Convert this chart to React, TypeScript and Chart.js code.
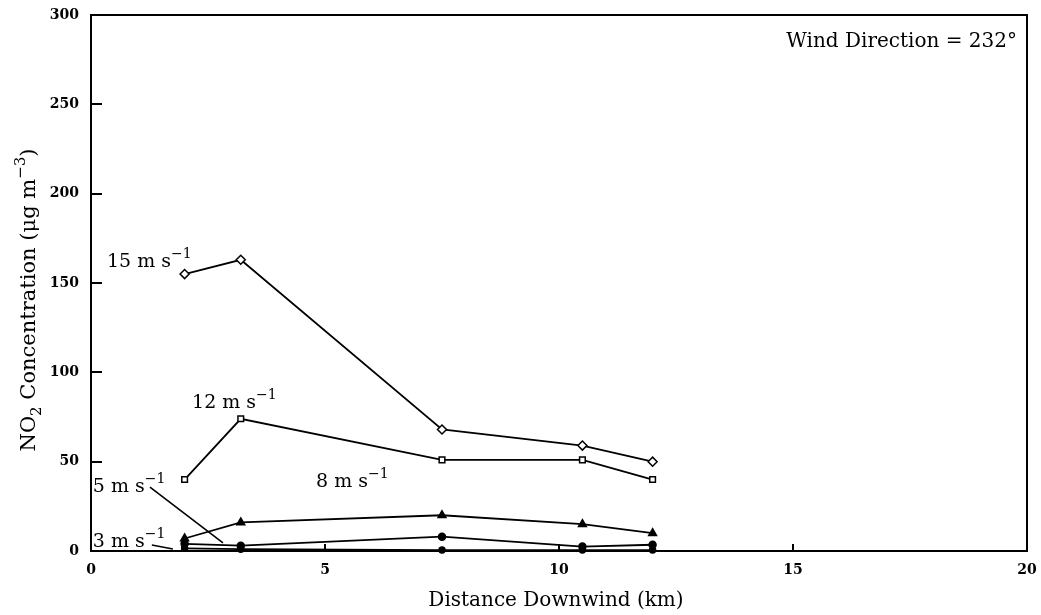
import { useEffect, useRef } from "react";
import { Chart, registerables } from "chart.js";

Chart.register(...registerables);

// Downwind distance of each sampling site (km)
const distanceKm = [2, 3.2, 7.5, 10.5, 12];

// NO2 concentration (µg m^-3) for each wind speed
const no2Wind15 = [155, 163, 68, 59, 50];
const no2Wind12 = [40, 74, 51, 51, 40];
const no2Wind8 = [7, 16, 20, 15, 10];
const no2Wind5 = [4, 3, 8, 2.5, 3.5];
const no2Wind3 = [1.5, 1, 0.5, 0.5, 0.5];

// Wind speed of each series (m s^-1)
const windSpeeds = ["15", "12", "8", "5", "3"];

const xTickValues = [0, 5, 10, 15, 20];
const yTickValues = [0, 50, 100, 150, 200, 250, 300];

const windDirectionText = "Wind Direction = 232°";
const xTitle = "Distance Downwind (km)";

const FONT = "'DejaVu Serif', serif";

// Where each wind-speed label sits, in data units (left edge, baseline)
const speedLabelAnchors = [
  { x: 0.34, y: 159 },
  { x: 2.16, y: 80 },
  { x: 4.81, y: 35.8 },
  { x: 0.04, y: 33 },
  { x: 0.04, y: 2.2 },
];

// Leader lines from the crowded labels to their curves, in data units
const leaderLines = [
  { from: [1.26, 35.8], to: [2.82, 4.5] },
  { from: [1.3, 3.4], to: [1.75, 1.1] },
];

type Part = [string, number]; // text, shift (0 normal, 1 superscript, -1 subscript)

function drawRich(
  ctx: CanvasRenderingContext2D,
  parts: Part[],
  x: number,
  y: number,
  size: number,
  align: "left" | "center" | "right"
) {
  const sizes = parts.map(([, s]) => (s === 0 ? size : Math.round(size * 0.72)));
  const widths = parts.map(([t], i) => {
    ctx.font = `${sizes[i]}px ${FONT}`;
    return ctx.measureText(t).width;
  });
  const total = widths.reduce((a, b) => a + b, 0);
  let cx = align === "center" ? x - total / 2 : align === "right" ? x - total : x;
  ctx.textAlign = "left";
  ctx.textBaseline = "alphabetic";
  parts.forEach(([t, s], i) => {
    ctx.font = `${sizes[i]}px ${FONT}`;
    const dy = s === 1 ? -size * 0.47 : s === -1 ? size * 0.28 : 0;
    ctx.fillText(t, cx, y + dy);
    cx += widths[i];
  });
}

const framePlugin = {
  id: "frame",
  afterDraw(chart: any) {
    const { ctx, chartArea } = chart;
    const { left, right, top, bottom } = chartArea;
    const xs = chart.scales.x;
    const ys = chart.scales.y;
    ctx.save();
    ctx.strokeStyle = "#000";
    ctx.lineWidth = 2;
    ctx.strokeRect(left, top, right - left, bottom - top);
    ctx.beginPath();
    yTickValues.slice(1, -1).forEach((v) => {
      const py = Math.round(ys.getPixelForValue(v));
      ctx.moveTo(left, py);
      ctx.lineTo(left + 11, py);
    });
    xTickValues.slice(1, -1).forEach((v) => {
      const px = Math.round(xs.getPixelForValue(v));
      ctx.moveTo(px, bottom);
      ctx.lineTo(px, bottom - 7);
    });
    ctx.stroke();
    ctx.restore();
  },
};

const annotationPlugin = {
  id: "speedLabels",
  afterDatasetsDraw(chart: any) {
    const { ctx, chartArea } = chart;
    const xs = chart.scales.x;
    const ys = chart.scales.y;
    ctx.save();
    ctx.fillStyle = "#000";
    ctx.strokeStyle = "#000";

    windSpeeds.forEach((speed, i) => {
      const a = speedLabelAnchors[i];
      drawRich(
        ctx,
        [
          [`${speed} m s`, 0],
          ["\u22121", 1],
        ],
        xs.getPixelForValue(a.x),
        ys.getPixelForValue(a.y),
        19,
        "left"
      );
    });

    ctx.lineWidth = 1.6;
    ctx.beginPath();
    leaderLines.forEach(({ from, to }) => {
      ctx.moveTo(xs.getPixelForValue(from[0]), ys.getPixelForValue(from[1]));
      ctx.lineTo(xs.getPixelForValue(to[0]), ys.getPixelForValue(to[1]));
    });
    ctx.stroke();

    // Wind direction note, top right of the plot
    drawRich(ctx, [[windDirectionText, 0]], chartArea.right - 10, chartArea.top + 32, 20, "right");

    // Axis titles
    drawRich(ctx, [[xTitle, 0]], (chartArea.left + chartArea.right) / 2 - 3, chartArea.bottom + 55, 20, "center");

    ctx.save();
    ctx.translate(35, (chartArea.top + chartArea.bottom) / 2 + 17);
    ctx.rotate(-Math.PI / 2);
    drawRich(
      ctx,
      [
        ["NO", 0],
        ["2", -1],
        [" Concentration (\u03bcg m", 0],
        ["\u22123", 1],
        [")", 0],
      ],
      0,
      0,
      21,
      "center"
    );
    ctx.restore();

    ctx.restore();
  },
};

export default function App() {
  const canvasRef = useRef<HTMLCanvasElement>(null);

  useEffect(() => {
    const canvas = canvasRef.current;
    if (!canvas) return;

    const lineStyle = {
      borderColor: "#000",
      borderWidth: 1.8,
      pointBorderColor: "#000",
      pointBorderWidth: 1.5,
      tension: 0,
      clip: false as const,
    };

    const series = [no2Wind15, no2Wind12, no2Wind8, no2Wind5, no2Wind3];
    const pointStyles = ["rectRot", "rect", "triangle", "circle", "circle"];
    const pointRadii = [4.5, 4, 4.5, 3.5, 3];
    const pointFills = ["#fff", "#fff", "#000", "#000", "#000"];

    const noEdgePadding = (scale: any) => {
      scale.paddingTop = 0;
      scale.paddingBottom = 0;
      scale.paddingLeft = 0;
      scale.paddingRight = 0;
    };

    const chart = new Chart(canvas, {
      type: "line",
      data: {
        datasets: series.map((values, i) => ({
          label: `${windSpeeds[i]} m s\u207b\u00b9`,
          data: values.map((v, j) => ({ x: distanceKm[j], y: v })),
          ...lineStyle,
          pointStyle: pointStyles[i] as any,
          pointRadius: pointRadii[i],
          pointBackgroundColor: pointFills[i],
        })),
      },
      options: {
        responsive: false,
        devicePixelRatio: 1,
        animation: false,
        layout: { padding: { top: 15, right: 14, left: 0, bottom: 0 } },
        plugins: {
          legend: { display: false },
          tooltip: { enabled: false },
        },
        scales: {
          x: {
            type: "linear",
            min: 0,
            max: 20,
            afterFit: (scale: any) => {
              scale.height = 64;
              noEdgePadding(scale);
            },
            afterBuildTicks: (scale: any) => {
              scale.ticks = xTickValues.map((v) => ({ value: v }));
            },
            grid: { display: false, drawTicks: false },
            border: { display: false },
            ticks: {
              color: "#000",
              padding: 11,
              maxRotation: 0,
              font: { family: FONT, size: 14, weight: "bold" },
            },
          },
          y: {
            type: "linear",
            min: 0,
            max: 300,
            afterFit: (scale: any) => {
              scale.width = 91;
              noEdgePadding(scale);
            },
            afterBuildTicks: (scale: any) => {
              scale.ticks = yTickValues.map((v) => ({ value: v }));
            },
            grid: { display: false, drawTicks: false },
            border: { display: false },
            ticks: {
              color: "#000",
              padding: 12,
              font: { family: FONT, size: 14, weight: "bold" },
            },
          },
        },
      },
      plugins: [framePlugin, annotationPlugin],
    });

    return () => chart.destroy();
  }, []);

  return (
    <div style={{ position: "absolute", left: 0, top: 0, width: 1041, height: 615, background: "#fff" }}>
      <canvas ref={canvasRef} width={1041} height={615} style={{ display: "block" }} />
    </div>
  );
}
